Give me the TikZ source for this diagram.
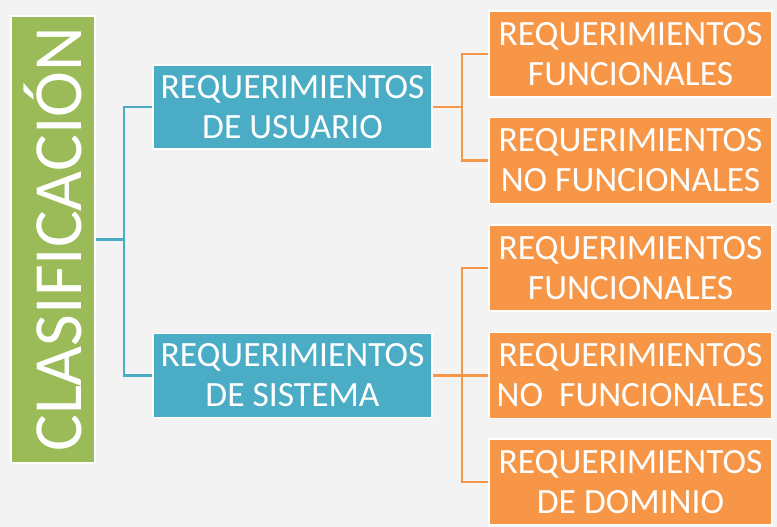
\documentclass[tikz,border=0pt]{standalone}
\usepackage{fontspec}
\setmainfont{Carlito}
\usetikzlibrary{positioning}
\definecolor{clgreen}{HTML}{9BBB59}
\definecolor{clblue}{HTML}{4BACC6}
\definecolor{clorange}{HTML}{F79646}
\definecolor{clback}{HTML}{F3F3F3}
\begin{document}
\begin{tikzpicture}[
			x=1pt, y=-1pt,
			clasif/.style = {draw=white, line width=1.5pt, fill=clgreen, text=white, minimum width=84pt, minimum height=447pt, inner sep=0pt, font=\fontsize{69}{72}\selectfont},
			lvlone/.style = {draw=white, line width=1.5pt, fill=clblue, text=white, align=center, minimum width=279pt, minimum height=84pt, inner sep=0pt, font=\fontsize{35.5}{40}\selectfont},
			lvltwo/.style = {draw=white, line width=1.5pt, fill=clorange, text=white, align=center, minimum width=283pt, minimum height=86pt, inner sep=0pt, font=\fontsize{35.5}{40}\selectfont},
			blueline/.style = {draw=clblue, line width=2.5pt},
			orangeline/.style = {draw=clorange, line width=2.5pt}
		]
		\fill[clback] (0,0) rectangle (777,527);
		\useasboundingbox (0,0) rectangle (777,527);
		\node[clasif] (clas) at (53,239.5) {\rotatebox{90}{CLASIFICACIÓN}};
		% Level 1.
		\node[lvlone] (usu) at (292.5,107) {REQUERIMIENTOS\\DE USUARIO};
		\node[lvlone] (sis) at (292.5,375.5) {REQUERIMIENTOS\\DE SISTEMA};
		% Level 2.
		\node[lvltwo] (fa) at (630.5,54) {REQUERIMIENTOS\\FUNCIONALES};
		\node[lvltwo] (nfa) at (630.5,160.5) {REQUERIMIENTOS\\NO FUNCIONALES};
		\node[lvltwo] (fb) at (630.5,268) {REQUERIMIENTOS\\FUNCIONALES};
		\node[lvltwo] (nfb) at (630.5,375.5) {REQUERIMIENTOS\\NO~~FUNCIONALES};
		\node[lvltwo] (dom) at (630.5,482) {REQUERIMIENTOS\\DE DOMINIO};
		
		\draw[blueline] (clas.east) -- ++(28,0) coordinate (bj) |- (usu.west);
		\draw[blueline] (bj) |- (sis.west);
		\draw[orangeline] (usu.east) -- ++(29,0) coordinate (oja) |- (fa.west);
		\draw[orangeline] (oja) |- (nfa.west);
		\draw[orangeline] (sis.east) -- ++(29,0) coordinate (ojb) |- (fb.west);
		\draw[orangeline] (ojb) |- (nfb.west);
		\draw[orangeline] (ojb) |- (dom.west);
	\end{tikzpicture}
\end{document}
